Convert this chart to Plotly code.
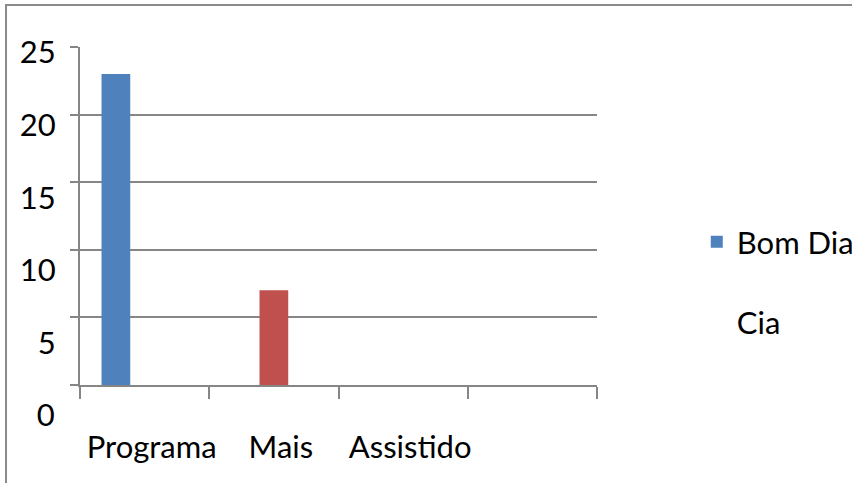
import plotly.graph_objects as go

categories = ["Programa", "Mais", "Assistido", " "]
series_names = ["Bom Dia e<br><br>Cia", "Série 2", "Série 3"]
series_1 = [23, 0, 0, 0]
series_2 = [0, 7, 0, 0]
series_3 = [0, 0, 0, 0]
series_colors = ["#4F81BD", "#C0504D", "#9BBB59"]
grid_ticks = [0, 5, 10, 15, 20, 25]
label_ticks = [5, 10, 15, 20, 25]

FONT = "Lato, Roboto, sans-serif"
FS = 31
GRID = "#868686"

fig = go.Figure()
for i, (name, vals) in enumerate(zip(series_names, [series_1, series_2, series_3])):
    fig.add_trace(go.Bar(
        x=categories, y=vals, name=name,
        marker=dict(color=series_colors[i], line=dict(width=0)),
        showlegend=(i == 0),
    ))
# empty helper trace so the label axis is drawn
fig.add_trace(go.Scatter(x=categories, y=[None] * len(categories), yaxis="y2",
                         mode="markers", showlegend=False, hoverinfo="skip"))

fig.update_layout(
    width=852, height=483,
    margin=dict(l=80, r=255, t=47, b=98, autoexpand=False),
    paper_bgcolor="white", plot_bgcolor="white",
    barmode="group", bargap=0.333, bargroupgap=0,
    font=dict(family=FONT, size=FS, color="black"),
    legend=dict(x=1.193, y=0.503, xanchor="left", yanchor="top", valign="top",
                font=dict(family=FONT, size=FS, color="black"),
                bgcolor="rgba(0,0,0,0)", itemwidth=30),
    xaxis=dict(
        type="category", categoryorder="array", categoryarray=categories,
        showline=True, linecolor=GRID, linewidth=2,
        ticks="outside", ticklen=12, tickwidth=2, tickcolor=GRID,
        tickson="boundaries", showgrid=False, automargin=False, tickangle=0,
        ticklabelstandoff=34, ticklabelshift=7,
        tickfont=dict(family=FONT, size=FS, color="black"),
    ),
    yaxis=dict(
        range=[0, 25], tickvals=grid_ticks,
        ticktext=["0"] + [""] * (len(grid_ticks) - 1),
        showline=True, linecolor=GRID, linewidth=2, automargin=False,
        ticks="outside", ticklen=8, tickwidth=2, tickcolor=GRID,
        showgrid=True, gridcolor=GRID, gridwidth=2, zeroline=False,
        ticklabelstandoff=9, ticklabelshift=30,
        tickfont=dict(family=FONT, size=FS, color="black"),
    ),
    yaxis2=dict(
        overlaying="y", anchor="x", side="left",
        range=[2.10, 25.38], tickvals=label_ticks,
        ticktext=[str(v) for v in label_ticks],
        showline=False, showgrid=False, zeroline=False, automargin=False,
        ticks="outside", ticklen=8, tickcolor="rgba(0,0,0,0)",
        ticklabelstandoff=9,
        tickfont=dict(family=FONT, size=FS, color="black"),
    ),
    shapes=[dict(type="rect", xref="paper", yref="paper",
                 x0=-0.1431, x1=1.52, y0=-0.32, y1=1.1243,
                 line=dict(color="#8A8A8A", width=2), fillcolor="rgba(0,0,0,0)",
                 layer="below")],
)

fig.write_html("out.html", config={"displayModeBar": False},
               post_script="document.body.style.margin='0';")
